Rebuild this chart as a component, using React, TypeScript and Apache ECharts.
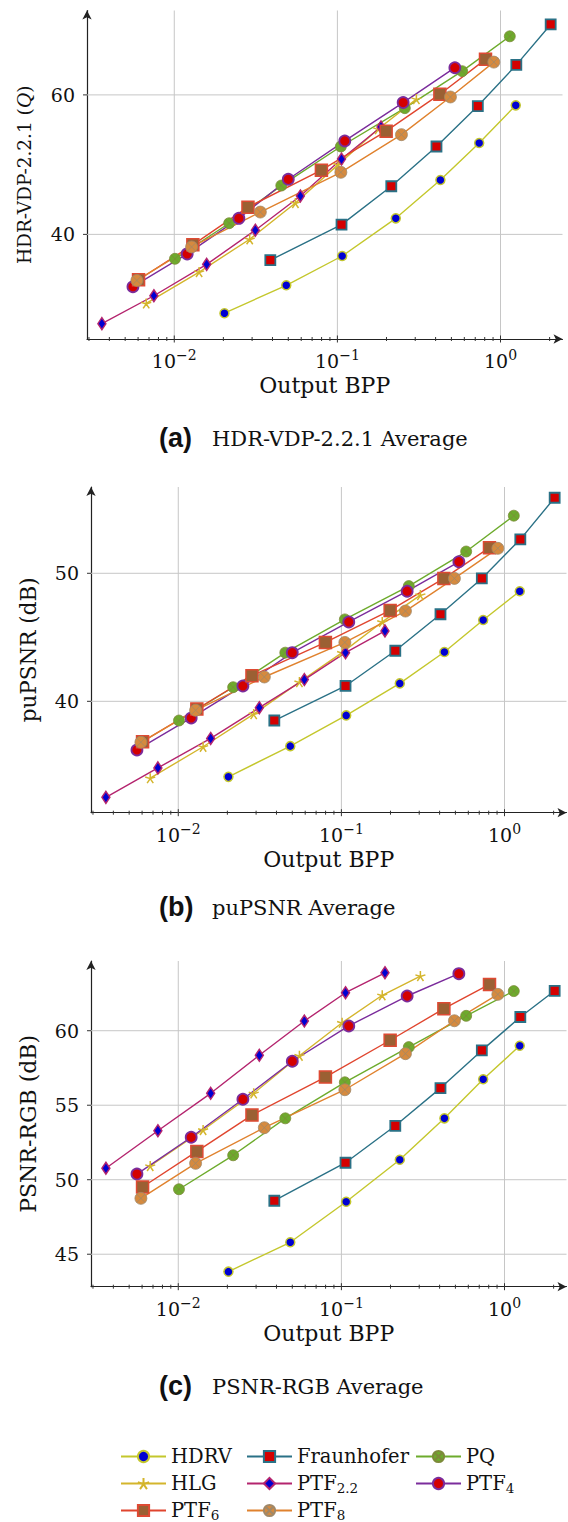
import React, { useEffect, useRef } from 'react';
import * as echarts from 'echarts';

// ---- data (x = output bits per pixel, shared by the three metrics) ----
const NAMES = ['HDRV', 'Fraunhofer', 'PQ', 'HLG', 'PTF2.2', 'PTF4', 'PTF6', 'PTF8'];

const X_HDRV = [0.0203, 0.0486, 0.107, 0.228, 0.428, 0.74, 1.24];
const X_FRAUNHOFER = [0.0388, 0.106, 0.214, 0.405, 0.726, 1.25, 2.03];
const X_PQ = [0.0101, 0.0217, 0.0453, 0.105, 0.259, 0.582, 1.14];
const X_HLG = [0.00673, 0.0142, 0.029, 0.0553, 0.101, 0.178, 0.305];
const X_PTF22 = [0.0036, 0.0075, 0.0158, 0.0314, 0.0593, 0.106, 0.185];
const X_PTF4 = [0.00558, 0.012, 0.0249, 0.05, 0.111, 0.253, 0.525];
const X_PTF6 = [0.00604, 0.013, 0.0283, 0.0798, 0.199, 0.425, 0.809];
const X_PTF8 = [0.0059, 0.01277, 0.0337, 0.105, 0.247, 0.493, 0.91];

// (a) HDR-VDP-2.2.1 Q
const VDP_HDRV = [28.7, 32.7, 36.9, 42.3, 47.8, 53.1, 58.5];
const VDP_FRAUNHOFER = [36.3, 41.4, 46.9, 52.6, 58.4, 64.3, 70.1];
const VDP_PQ = [36.5, 41.6, 47.0, 52.6, 58.1, 63.4, 68.4];
const VDP_HLG = [30.1, 34.6, 39.3, 44.5, 50.0, 55.1, 59.4];
const VDP_PTF22 = [27.2, 31.2, 35.7, 40.6, 45.5, 50.8, 55.4];
const VDP_PTF4 = [32.5, 37.2, 42.3, 47.9, 53.4, 58.9, 63.9];
const VDP_PTF6 = [33.5, 38.5, 43.9, 49.2, 54.8, 60.1, 65.1];
const VDP_PTF8 = [33.4, 38.2, 43.2, 48.9, 54.3, 59.7, 64.7];

// (b) puPSNR
const PU_HDRV = [34.1, 36.5, 38.9, 41.4, 43.85, 46.35, 48.6];
const PU_FRAUNHOFER = [38.5, 41.2, 43.95, 46.8, 49.6, 52.65, 55.9];
const PU_PQ = [38.5, 41.1, 43.8, 46.4, 49.0, 51.7, 54.5];
const PU_HLG = [34.0, 36.45, 39.0, 41.5, 43.8, 46.2, 48.3];
const PU_PTF22 = [32.5, 34.8, 37.1, 39.5, 41.7, 43.8, 45.5];
const PU_PTF4 = [36.2, 38.7, 41.2, 43.8, 46.2, 48.6, 50.9];
const PU_PTF6 = [36.85, 39.4, 42.0, 44.6, 47.1, 49.6, 52.0];
const PU_PTF8 = [36.8, 39.3, 41.9, 44.6, 47.05, 49.6, 51.95];

// (c) PSNR-RGB
const RGB_HDRV = [43.83, 45.8, 48.52, 51.34, 54.12, 56.74, 58.99];
const RGB_FRAUNHOFER = [48.59, 51.14, 53.62, 56.15, 58.68, 60.92, 62.68];
const RGB_PQ = [49.36, 51.64, 54.12, 56.54, 58.9, 61.0, 62.66];
const RGB_HLG = [50.92, 53.34, 55.8, 58.32, 60.54, 62.38, 63.67];
const RGB_PTF22 = [50.77, 53.29, 55.8, 58.35, 60.65, 62.55, 63.89];
const RGB_PTF4 = [50.38, 52.85, 55.4, 57.95, 60.32, 62.33, 63.83];
const RGB_PTF6 = [49.51, 51.9, 54.34, 56.89, 59.36, 61.48, 63.11];
const RGB_PTF8 = [48.75, 51.1, 53.49, 56.04, 58.46, 60.67, 62.44];

// ticks
const X_MAJOR = [0.01, 0.1, 1];
const X_MINOR = [0.003, 0.004, 0.005, 0.006, 0.007, 0.008, 0.009, 0.02, 0.03, 0.04, 0.05, 0.06, 0.07, 0.08, 0.09, 0.2, 0.3, 0.4, 0.5, 0.6, 0.7, 0.8, 0.9, 2];
const Y_TICKS_A = [40, 60];
const Y_TICKS_B = [40, 50];
const Y_TICKS_C = [45, 50, 55, 60];

const X_LIST = [X_HDRV, X_FRAUNHOFER, X_PQ, X_HLG, X_PTF22, X_PTF4, X_PTF6, X_PTF8];
const Y_LISTS = [
  [VDP_HDRV, VDP_FRAUNHOFER, VDP_PQ, VDP_HLG, VDP_PTF22, VDP_PTF4, VDP_PTF6, VDP_PTF8],
  [PU_HDRV, PU_FRAUNHOFER, PU_PQ, PU_HLG, PU_PTF22, PU_PTF4, PU_PTF6, PU_PTF8],
  [RGB_HDRV, RGB_FRAUNHOFER, RGB_PQ, RGB_HLG, RGB_PTF22, RGB_PTF4, RGB_PTF6, RGB_PTF8],
];

const SERIF = 'DejaVu Serif';
const OTIMES = 'path://M1,0A1,1,0,1,1,-1,0A1,1,0,1,1,1,0ZM-0.7071,-0.7071L0.7071,0.7071M-0.7071,0.7071L0.7071,-0.7071';
const ASTER = 'path://M0,-1L0,0M0,0L0.951,-0.309M0,0L0.588,0.809M0,0L-0.588,0.809M0,0L-0.951,-0.309';

const STYLES: Record<string, any> = {
  HDRV: { line: '#c4c72c', symbol: 'circle', size: 9, fill: '#0000d2', border: '#c4c72c', bw: 1.5 },
  Fraunhofer: { line: '#2a7186', symbol: 'rect', size: 10, fill: '#d40000', border: '#2a7186', bw: 1.8 },
  PQ: { line: '#6dab2c', symbol: OTIMES, size: 11, fill: '#6dab2c', border: '#7d8a3a', bw: 0.8 },
  HLG: { line: '#d4b52c', symbol: ASTER, size: 10, fill: '#d4b52c', border: '#d4b52c', bw: 1.5 },
  'PTF2.2': { line: '#b4246e', symbol: 'diamond', size: [8, 12], fill: '#0000d2', border: '#b4246e', bw: 1.5 },
  PTF4: { line: '#7b2c9c', symbol: 'circle', size: 11, fill: '#d40000', border: '#7b2c9c', bw: 1.8 },
  PTF6: { line: '#e0452e', symbol: 'rect', size: 12, fill: '#9b6033', border: '#de4a33', bw: 1.5 },
  PTF8: { line: '#e0822e', symbol: OTIMES, size: 12, fill: '#d68a3e', border: '#a08868', bw: 0.8 },
};

const LEGEND_LABEL: Record<string, string> = {
  'PTF2.2': 'PTF{sub|2.2}',
  PTF4: 'PTF{sub|4}',
  PTF6: 'PTF{sub|6}',
  PTF8: 'PTF{sub|8}',
};

const X_MIN = Math.pow(10, -2.535);
const X_MAX = Math.pow(10, 0.38);

const PANELS = [
  { left: 87, top: 10.5, height: 328.5, ymin: 25, ymax: 72.1, yTicks: Y_TICKS_A, yName: 'HDR-VDP-2.2.1 ({i|Q})', yNameSize: 18.5, cap: '(a)', capText: 'HDR-VDP-2.2.1 Average', capY: 439 },
  { left: 91, top: 487, height: 325.7, ymin: 31.3, ymax: 56.74, yTicks: Y_TICKS_B, yName: 'puPSNR (dB)', yNameSize: 21.5, cap: '(b)', capText: 'puPSNR Average', capY: 908 },
  { left: 91, top: 961, height: 325.7, ymin: 42.82, ymax: 64.68, yTicks: Y_TICKS_C, yName: 'PSNR-RGB (dB)', yNameSize: 22, cap: '(c)', capText: 'PSNR-RGB Average', capY: 1387 },
];
const GRID_WIDTH = 475.5;

function buildOption() {
  const grid: any[] = [];
  const xAxis: any[] = [];
  const yAxis: any[] = [];
  const series: any[] = [];
  const graphic: any[] = [];

  PANELS.forEach((p, pi) => {
    grid.push({ left: p.left, top: p.top, width: GRID_WIDTH, height: p.height, containLabel: false });
    xAxis.push({
      type: 'log',
      logBase: 10,
      gridIndex: pi,
      min: X_MIN,
      max: X_MAX,
      axisLine: { show: true, symbol: ['none', 'arrow'], symbolSize: [7, 9], lineStyle: { color: '#222', width: 1.2 } },
      axisTick: { show: false },
      minorTick: { show: false },
      splitLine: { show: false },
      axisLabel: {
        margin: 9,
        fontFamily: SERIF,
        fontSize: 19,
        color: '#111',
        lineHeight: 26,
        showMinLabel: false,
        showMaxLabel: false,
        formatter: (v: number) => {
          const e = Math.log10(v);
          const r = Math.round(e);
          if (Math.abs(e - r) > 1e-6) return '';
          return '10{sup|' + (r < 0 ? '\u2212' + -r : String(r)) + '}';
        },
        rich: { sup: { fontFamily: SERIF, fontSize: 14, lineHeight: 14, verticalAlign: 'top', color: '#111' } },
      },
      name: 'Output BPP',
      nameLocation: 'middle',
      nameGap: 35,
      nameTextStyle: { fontFamily: SERIF, fontSize: 22, color: '#111' },
    });
    yAxis.push({
      type: 'value',
      gridIndex: pi,
      min: p.ymin,
      max: p.ymax,
      axisLine: { show: true, symbol: ['none', 'arrow'], symbolSize: [7, 9], lineStyle: { color: '#222', width: 1.2 } },
      axisTick: { show: false },
      splitLine: { show: false },
      axisLabel: {
        margin: 12,
        fontFamily: SERIF,
        fontSize: 19,
        color: '#111',
        showMinLabel: false,
        showMaxLabel: false,
        formatter: (v: number) => (p.yTicks.some((t) => Math.abs(t - v) < 1e-6) ? String(v) : ''),
      },
      name: p.yName,
      nameLocation: 'middle',
      nameRotate: 90,
      nameGap: 52,
      nameTextStyle: {
        fontFamily: SERIF,
        fontSize: p.yNameSize,
        color: '#111',
        rich: { i: { fontFamily: 'Liberation Serif', fontSize: p.yNameSize + 3, fontStyle: 'italic', color: '#111' } },
      },
    });

    // grid lines and ticks, placed through the axes' own scales
    series.push({
      type: 'custom',
      name: 'frame' + pi,
      xAxisIndex: pi,
      yAxisIndex: pi,
      silent: true,
      clip: false,
      z: 1,
      data: [[1, (p.ymin + p.ymax) / 2]],
      renderItem: (_params: any, api: any) => {
        const children: any[] = [];
        const gridStyle = { stroke: '#c6c6c6', lineWidth: 1 };
        const tickStyle = { stroke: '#333', lineWidth: 1 };
        X_MAJOR.forEach((xv) => {
          const a = api.coord([xv, p.ymin]);
          const b = api.coord([xv, p.ymax]);
          children.push({ type: 'line', shape: { x1: a[0], y1: a[1], x2: b[0], y2: b[1] }, style: gridStyle });
          children.push({ type: 'line', shape: { x1: a[0], y1: a[1] - 3.5, x2: a[0], y2: a[1] + 3.5 }, style: tickStyle });
        });
        X_MINOR.forEach((xv) => {
          const a = api.coord([xv, p.ymin]);
          children.push({ type: 'line', shape: { x1: a[0], y1: a[1] - 2, x2: a[0], y2: a[1] + 2 }, style: tickStyle });
        });
        p.yTicks.forEach((yv) => {
          const a = api.coord([X_MIN, yv]);
          const b = api.coord([X_MAX, yv]);
          children.push({ type: 'line', shape: { x1: a[0], y1: a[1], x2: b[0], y2: b[1] }, style: gridStyle });
          children.push({ type: 'line', shape: { x1: a[0] - 4, y1: a[1], x2: a[0], y2: a[1] }, style: tickStyle });
        });
        return { type: 'group', children };
      },
    });

    NAMES.forEach((name, si) => {
      const st = STYLES[name];
      const xs = X_LIST[si];
      const ys = Y_LISTS[pi][si];
      series.push({
        type: 'line',
        name,
        xAxisIndex: pi,
        yAxisIndex: pi,
        data: xs.map((x, k) => [x, ys[k]]),
        symbol: st.symbol,
        symbolSize: st.size,
        showSymbol: true,
        showAllSymbol: true,
        z: 3,
        lineStyle: { color: st.line, width: 1.4 },
        itemStyle: { color: st.fill, borderColor: st.border, borderWidth: st.bw },
        emphasis: { disabled: true },
      });
    });

    graphic.push({
      type: 'text',
      left: 159,
      top: p.capY - 15,
      style: { text: p.cap, font: 'bold 27px "Liberation Sans", Arial, sans-serif', fill: '#111' },
    });
    graphic.push({
      type: 'text',
      left: 212,
      top: p.capY - 11,
      style: { text: p.capText, font: '21px "DejaVu Serif"', fill: '#111' },
    });
  });

  const legendBase = {
    orient: 'vertical',
    top: 1440,
    height: 90,
    itemWidth: 45,
    itemHeight: 14,
    itemGap: 4,
    selectedMode: false,
    textStyle: {
      fontFamily: SERIF,
      fontSize: 19.5,
      color: '#111',
      lineHeight: 23,
      rich: { sub: { fontFamily: SERIF, fontSize: 13.5, lineHeight: 13.5, verticalAlign: 'bottom', color: '#111' } },
    },
    formatter: (name: string) => LEGEND_LABEL[name] || name,
  };

  return {
    animation: false,
    backgroundColor: '#ffffff',
    grid,
    xAxis,
    yAxis,
    series,
    graphic,
    legend: [
      { ...legendBase, left: 115, data: ['HDRV', 'HLG', 'PTF6'] },
      { ...legendBase, left: 241, data: ['Fraunhofer', 'PTF2.2', 'PTF8'] },
      { ...legendBase, left: 410, data: ['PQ', 'PTF4'] },
    ],
  };
}

export default function App() {
  const ref = useRef<HTMLDivElement>(null);
  useEffect(() => {
    if (!ref.current) return;
    const chart = echarts.init(ref.current, undefined, { renderer: 'svg' });
    chart.setOption(buildOption() as any);
    return () => chart.dispose();
  }, []);
  return <div ref={ref} style={{ position: 'absolute', left: 0, top: 0, width: 568, height: 1522 }} />;
}
